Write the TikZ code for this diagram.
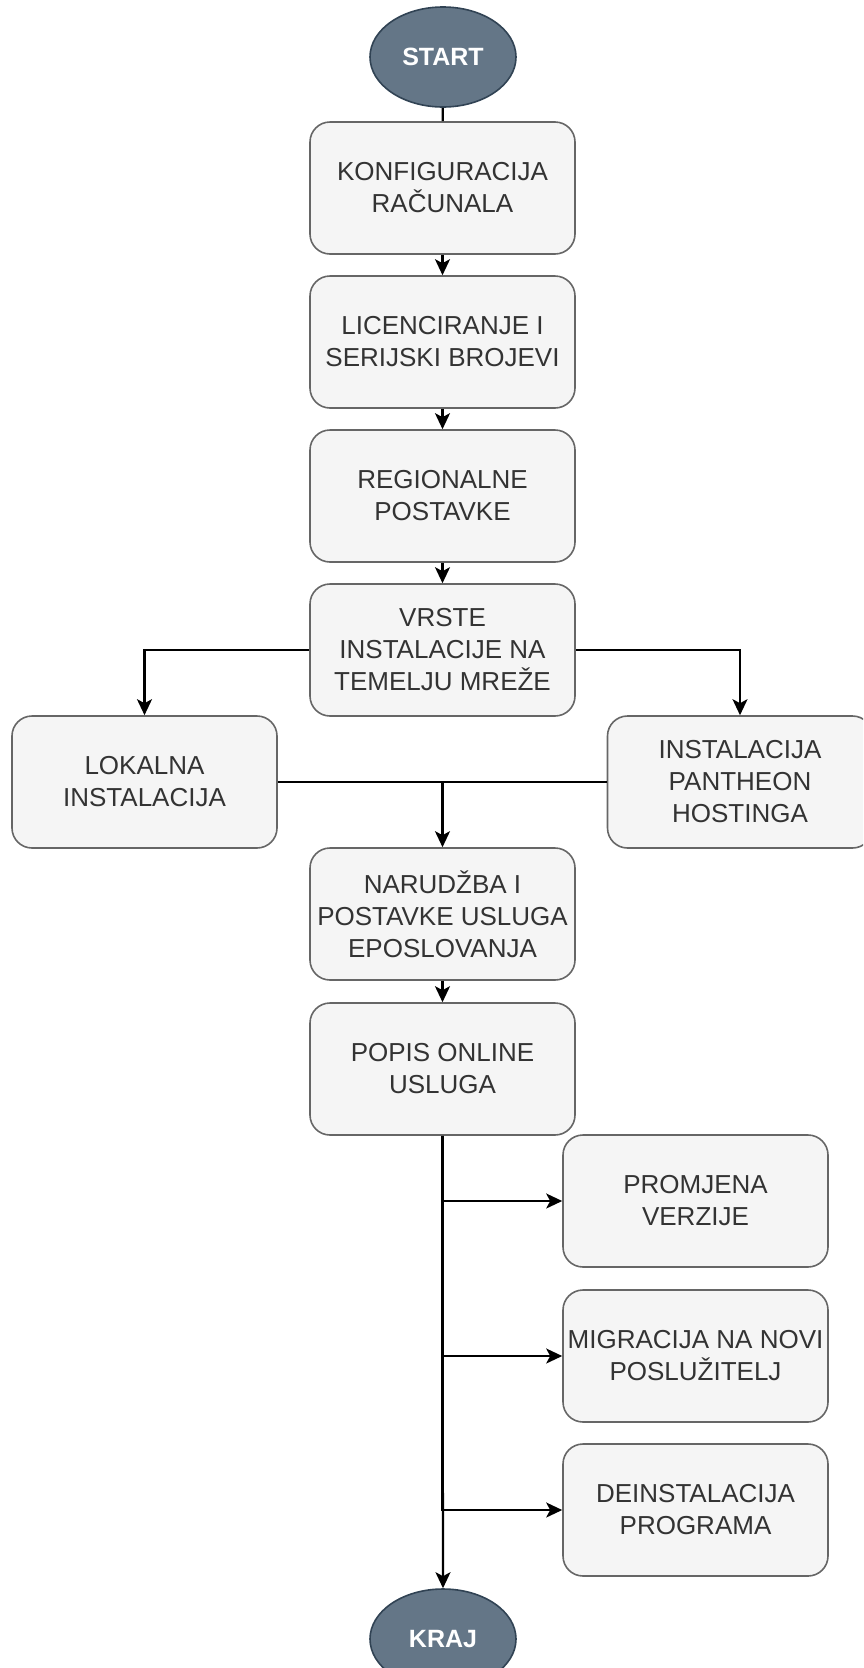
\documentclass[tikz,border=0pt]{standalone}
\usepackage{fontspec}
\setmainfont{Liberation Sans}
\usetikzlibrary{arrows.meta,shapes.geometric}
\definecolor{boxfill}{HTML}{F5F5F5}
\definecolor{boxline}{HTML}{666666}
\definecolor{boxtext}{HTML}{333333}
\definecolor{ellfill}{HTML}{647687}
\definecolor{ellline}{HTML}{314354}
\begin{document}
\begin{tikzpicture}[x=1pt,y=-1pt,
  stepbox/.style={draw=boxline, fill=boxfill, line width=1.6pt, rounded corners=20pt,
    minimum width=265pt, minimum height=132pt, inner sep=0pt, align=center,
    text=boxtext, font=\fontsize{26}{32}\selectfont},
  term/.style={ellipse, draw=ellline, fill=ellfill, line width=1.6pt,
    minimum width=146pt, minimum height=100pt, inner sep=0pt, text=white,
    font=\fontsize{25}{30}\selectfont\bfseries},
  conn/.style={draw=black, line width=2.2pt},
  arr/.style={conn, -{Stealth[length=16pt,width=15pt,inset=4pt]}}]
\useasboundingbox (0,0) rectangle (863,1668);
\clip (0,0) rectangle (863,1668);
\node[term] (start) at (443,57) {START};
\node[stepbox] (b1) at (442.5,188) {KONFIGURACIJA\\RAČUNALA};
\node[stepbox] (b2) at (442.5,342) {LICENCIRANJE I\\SERIJSKI BROJEVI};
\node[stepbox] (b3) at (442.5,496) {REGIONALNE\\POSTAVKE};
\node[stepbox] (b4) at (442.5,650) {VRSTE\\INSTALACIJE NA\\TEMELJU MREŽE};
\node[stepbox] (lok) at (144.5,782) {LOKALNA\\INSTALACIJA};
\node[stepbox] (pan) at (740,782) {INSTALACIJA\\PANTHEON\\HOSTINGA};
\node[stepbox] (nar) at (442.5,914) {NARUDŽBA I\\POSTAVKE USLUGA\\EPOSLOVANJA};
\node[stepbox] (pop) at (442.5,1069) {POPIS ONLINE\\USLUGA};
\node[stepbox] (prom) at (695.5,1201) {PROMJENA\\VERZIJE};
\node[stepbox] (mig) at (695.5,1356) {MIGRACIJA NA NOVI\\POSLUŽITELJ};
\node[stepbox] (dein) at (695.5,1510) {DEINSTALACIJA\\PROGRAMA};
\node[term] (kraj) at (443,1639) {KRAJ};
\coordinate (merge) at (442.5,782);
\draw[conn] (start) -- (b1);
\draw[arr] (b1) -- (b2);
\draw[arr] (b2) -- (b3);
\draw[arr] (b3) -- (b4);
\draw[arr] (b4.west) -| (lok.north);
\draw[arr] (b4.east) -| (pan.north);
\draw[conn] (lok.east) -- (pan.west);
\draw[arr] (merge) -- (nar.north);
\draw[arr] (nar) -- (pop);
\draw[arr] (pop.south) -- (kraj.north);
\draw[arr] (pop.south) |- (prom.west);
\draw[arr] (pop.south) |- (mig.west);
\draw[arr] (pop.south) |- (dein.west);
\end{tikzpicture}
\end{document}
